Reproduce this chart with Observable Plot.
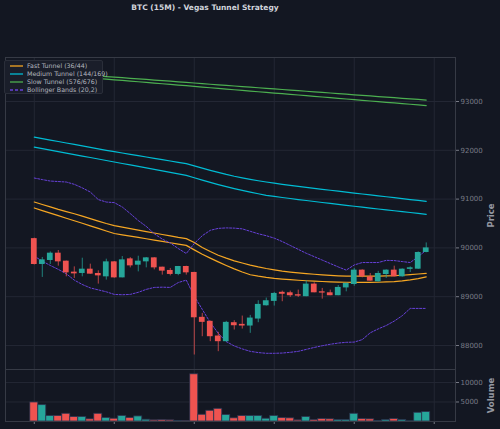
<!DOCTYPE html>
<html><head><meta charset="utf-8">
<script src="https://cdn.jsdelivr.net/npm/d3@7"></script>
<script src="https://cdn.jsdelivr.net/npm/@observablehq/plot@0.6"></script>
<style>
html,body{margin:0;padding:0;background:#131722;}
#wrap{position:relative;width:500px;height:429px;background:#131722;font-family:"DejaVu Sans",sans-serif;overflow:hidden}
#title{position:absolute;left:0;top:3px;width:410px;text-align:center;color:#d1d4dc;font-weight:bold;font-size:7.5px;line-height:10px}
.panel{position:absolute;left:0;overflow:visible}
#legend{position:absolute;left:4px;top:60px;width:99px;height:34px;background:#1a1e2a;border:1px solid #2a2e39;border-radius:2px;box-sizing:border-box;color:#b2b5be;font-size:6.3px}
.item{position:absolute;left:5px;height:8px;line-height:8px;white-space:nowrap}
.item svg{vertical-align:middle;margin-right:4px}
</style></head>
<body><div id="wrap"><div id="title">BTC (15M) - Vegas Tunnel Strategy</div></div>
<script>
const idx = d3.range(50);
const open  = [90190,89660,89742,89892,89728,89503,89476,89564,89476,89407,89714,89386,89775,89646,89714,89796,89605,89538,89456,89619,89497,88577,88495,88194,88078,88467,88433,88399,88542,88814,88904,89090,89080,89040,89000,89258,89100,89080,89020,89180,89250,89544,89407,89305,89455,89544,89407,89560,89564,89906];
const close = [89660,89755,89892,89714,89489,89468,89564,89462,89427,89714,89386,89755,89632,89728,89796,89591,89524,89456,89619,89489,88568,88474,88180,88078,88474,88405,88399,88562,88842,88917,89067,89050,89020,89012,89258,89080,89074,89020,89190,89272,89544,89407,89319,89476,89544,89407,89564,89592,89906,90000];
const high  = [90200,89804,89918,89947,89730,89611,89789,89667,89530,89769,89720,89823,89800,89830,89803,89800,89605,89579,89620,89625,89500,88658,88500,88270,88495,88508,88603,88617,88917,88972,89088,89114,89114,89135,89325,89285,89170,89135,89230,89275,89580,89550,89476,89520,89550,89626,89570,89612,89918,90102];
const low   = [89650,89395,89660,89626,89407,89374,89407,89460,89258,89340,89380,89386,89590,89509,89591,89550,89442,89427,89430,89442,87805,88180,88078,87873,88070,88317,88337,88249,88467,88808,88808,88897,88985,88985,88998,89080,88950,89020,89020,89100,89215,89387,89319,89300,89374,89407,89400,89496,89560,89900];
const volume = [4880,4190,1400,1400,1980,1140,1140,560,1980,890,710,1400,890,1300,460,300,380,300,100,100,12100,1730,2750,3250,1650,810,1400,1400,1400,710,1400,890,810,300,1140,380,640,560,380,380,1980,640,560,100,380,640,380,50,2240,2410];
const fastUpper = [90940,90890,90840,90790,90745,90700,90650,90600,90550,90500,90455,90425,90395,90365,90335,90305,90275,90245,90215,90190,90110,90010,89925,89850,89790,89735,89690,89646,89610,89578,89550,89525,89505,89488,89473,89460,89448,89437,89428,89422,89420,89420,89420,89422,89426,89430,89440,89452,89465,89478];
const fastLower = [90818,90765,90712,90660,90608,90556,90505,90452,90400,90347,90295,90268,90241,90214,90187,90160,90133,90106,90079,90052,89960,89870,89790,89714,89640,89570,89505,89450,89420,89395,89375,89360,89348,89337,89327,89318,89311,89305,89300,89296,89293,89292,89292,89296,89302,89310,89325,89345,89372,89405];
const medUpper = [92270,92240,92210,92180,92150,92120,92090,92060,92030,92000,91972,91945,91918,91890,91863,91836,91808,91781,91754,91726,91680,91634,91590,91548,91506,91468,91436,91405,91376,91350,91326,91303,91281,91260,91240,91220,91200,91181,91162,91143,91124,91105,91086,91067,91048,91029,91010,90991,90973,90955];
const medLower = [92065,92035,92004,91974,91943,91913,91882,91852,91822,91791,91761,91730,91700,91670,91639,91609,91578,91548,91517,91487,91438,91390,91343,91298,91255,91215,91178,91143,91110,91078,91055,91033,91012,90991,90971,90951,90931,90911,90892,90873,90854,90835,90816,90797,90779,90761,90743,90725,90707,90689];
const slowUpper = [93620,93608,93596,93584,93572,93560,93548,93536,93524,93512,93500,93488,93476,93464,93452,93440,93428,93416,93404,93392,93379,93366,93354,93342,93330,93318,93306,93294,93282,93270,93258,93246,93234,93222,93210,93198,93186,93174,93162,93150,93138,93126,93114,93102,93090,93078,93066,93054,93042,93030];
const slowLower = [93580,93567,93553,93540,93526,93513,93499,93486,93472,93459,93445,93432,93418,93405,93391,93378,93364,93351,93337,93324,93310,93296,93282,93268,93254,93241,93227,93214,93200,93187,93173,93160,93146,93133,93119,93106,93092,93079,93065,93052,93038,93025,93011,92998,92984,92971,92957,92944,92930,92917];
const bbUpper = [91432,91400,91370,91360,91350,91303,91230,91145,90990,90940,90928,90838,90703,90560,90440,90290,90180,90100,89987,89885,90090,90250,90360,90400,90410,90405,90390,90340,90290,90250,90200,90130,90050,89970,89890,89820,89750,89680,89610,89545,89650,89700,89700,89700,89745,89740,89720,89700,89820,89955];
const bbLower = [89830,89730,89640,89560,89470,89340,89250,89180,89140,89100,89047,89040,89047,89090,89150,89190,89195,89190,89290,89340,89010,88740,88470,88250,88080,87990,87930,87880,87855,87840,87840,87845,87860,87880,87920,87960,87995,88025,88050,88065,88070,88120,88260,88340,88410,88500,88610,88760,88760,88760];
const priceTicks = [88000,89000,90000,91000,92000,93000];
const volumeTicks = [5000,10000];
const xTicks = [0,10,20,30,40,50];
const legendLabels = ["Fast Tunnel (36/44)","Medium Tunnel (144/169)","Slow Tunnel (576/676)","Bollinger Bands (20,2)"];

const UP="#26a69a", DOWN="#ef5350";
const C_FAST="#f5a623", C_MED="#00bcd4", C_SLOW="#4caf50", C_BB="#6741d9";
const GRID="#232734", FRAME="#363a45", TICK="#787b86";

const candles = idx.map(i => ({i, open:open[i], close:close[i], high:high[i], low:low[i], volume:volume[i], up: close[i] >= open[i]}));
const series = (arr) => idx.map(i => ({i, v: arr[i]}));
const xDomain = [-3.6, 52.66];
const fontFamily = '"DejaVu Sans", sans-serif';

const lineMark = (arr, color, extra={}) => Plot.line(series(arr), {x:"i", y:"v", stroke:color, strokeWidth:1.2, ...extra});

const price = Plot.plot({
  width:500, height:369, marginLeft:5, marginRight:45, marginTop:57, marginBottom:0,
  style:{background:"transparent", color:TICK, fontFamily, fontSize:"7px", overflow:"visible"},
  x:{domain:xDomain, axis:null},
  y:{domain:[87508, 93902], axis:null},
  marks:[
    Plot.gridX(xTicks, {stroke:GRID, strokeOpacity:1}),
    Plot.gridY(priceTicks, {stroke:GRID, strokeOpacity:1}),
    lineMark(slowUpper, C_SLOW), lineMark(slowLower, C_SLOW),
    lineMark(medUpper, C_MED), lineMark(medLower, C_MED),
    lineMark(fastUpper, C_FAST), lineMark(fastLower, C_FAST),
    lineMark(bbUpper, C_BB, {strokeWidth:1, strokeDasharray:"2,1.5"}),
    lineMark(bbLower, C_BB, {strokeWidth:1, strokeDasharray:"2,1.5"}),
    Plot.ruleX(candles, {x:"i", y1:"low", y2:"high", stroke:d=>d.up?UP:DOWN, strokeWidth:1, strokeOpacity:0.75}),
    Plot.rect(candles, {x1:d=>d.i-0.36, x2:d=>d.i+0.36, y1:"open", y2:"close", fill:d=>d.up?UP:DOWN}),
    Plot.axisY(priceTicks, {anchor:"right", tickSize:3, tickPadding:2, tickFormat:d3.format("d"), stroke:TICK, fill:TICK, fontSize:7, label:null}),
    Plot.text(["Price"], {frameAnchor:"right", dx:36, dy:2, rotate:-90, textAnchor:"middle", fill:"#9598a1", fontWeight:"bold", fontSize:8.5}),
    Plot.frame({stroke:FRAME})
  ]
});
price.classList.add("panel");
price.style.top = "0px";

const vol = Plot.plot({
  width:500, height:60, marginLeft:5, marginRight:45, marginTop:0, marginBottom:8,
  style:{background:"transparent", color:TICK, fontFamily, fontSize:"7px", overflow:"visible"},
  x:{domain:xDomain, axis:null},
  y:{domain:[0, 13333], axis:null},
  marks:[
    Plot.gridX(xTicks, {stroke:GRID, strokeOpacity:1}),
    Plot.gridY(volumeTicks, {stroke:GRID, strokeOpacity:1}),
    Plot.rect(candles, {x1:d=>d.i-0.5, x2:d=>d.i+0.5, y1:0, y2:"volume", fill:d=>d.up?UP:DOWN, stroke:"#2a3550", strokeWidth:0.8}),
    Plot.axisY(volumeTicks, {anchor:"right", tickSize:3, tickPadding:2, tickFormat:d3.format("d"), stroke:TICK, fill:TICK, fontSize:7, label:null}),
    Plot.axisX(xTicks, {anchor:"bottom", tickSize:3, tickFormat:()=>"", stroke:TICK, label:null}),
    Plot.text(["Volume"], {frameAnchor:"right", dx:36, dy:0, rotate:-90, textAnchor:"middle", fill:"#9598a1", fontWeight:"bold", fontSize:8.5}),
    Plot.frame({stroke:FRAME})
  ]
});
vol.classList.add("panel");
vol.style.top = "369px";

const wrap = document.getElementById("wrap");
wrap.appendChild(price);
wrap.appendChild(vol);

// legend
const legend = document.createElement("div");
legend.id = "legend";
const legendColors = [C_FAST, C_MED, C_SLOW, C_BB];
legendLabels.forEach((lab, k) => {
  const it = document.createElement("div");
  it.className = "item";
  it.style.top = (0.5 + k*8) + "px";
  const dash = k === 3 ? ' stroke-dasharray="3,2"' : '';
  it.innerHTML = `<svg width="13" height="4"><line x1="0" y1="2" x2="13" y2="2" stroke="${legendColors[k]}" stroke-width="1.3"${dash}/></svg>`;
  it.appendChild(document.createTextNode(lab));
  legend.appendChild(it);
});
wrap.appendChild(legend);
</script>
</body></html>
